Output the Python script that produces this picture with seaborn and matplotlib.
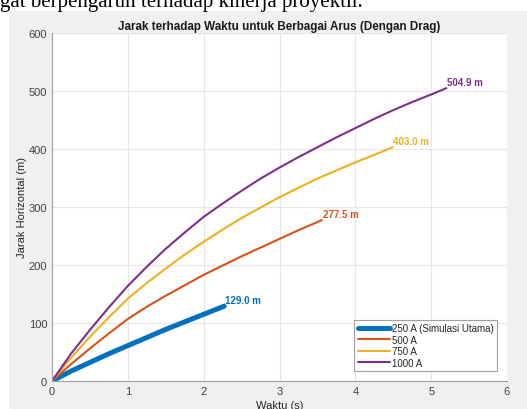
import matplotlib
matplotlib.use("Agg")
import matplotlib.pyplot as plt
import seaborn as sns
import pandas as pd
from matplotlib.patches import Rectangle

# ---- data ----
labels = ["250 A (Simulasi Utama)", "500 A", "750 A", "1000 A"]
t_250 = [0, 0.25, 0.5, 0.75, 1.0, 1.25, 1.5, 1.75, 2.0, 2.27]
x_250 = [0, 17, 32, 47, 61, 75, 89, 102, 115, 129.0]
t_500 = [0, 0.25, 0.5, 0.75, 1.0, 1.25, 1.5, 1.75, 2.0, 2.25, 2.5, 2.75, 3.0,
         3.25, 3.56]
x_500 = [0, 29, 56, 82, 107, 128, 147, 165, 183, 199, 215, 230, 245, 260, 277.5]
t_750 = [0, 0.25, 0.5, 0.75, 1.0, 1.25, 1.5, 1.75, 2.0, 2.25, 2.5, 2.75, 3.0,
         3.25, 3.5, 3.75, 4.0, 4.25, 4.49]
x_750 = [0, 40, 76, 110, 142, 169, 194, 218, 240, 261, 281, 299, 317, 333, 349,
         363, 377, 390, 403.0]
t_1000 = [0, 0.25, 0.5, 0.75, 1.0, 1.25, 1.5, 1.75, 2.0, 2.25, 2.5, 2.75, 3.0,
          3.25, 3.5, 3.75, 4.0, 4.25, 4.5, 4.75, 5.0, 5.2]
x_1000 = [0, 47, 88, 127, 164, 197, 228, 256, 283, 306, 328, 349, 368, 386, 403,
          420, 436, 452, 467, 481, 494, 504.9]
end_labels = ["129.0 m", "277.5 m", "403.0 m", "504.9 m"]
xticks = [0, 1, 2, 3, 4, 5, 6]
yticks = [0, 100, 200, 300, 400, 500, 600]

colors = ["#0072BD", "#D95319", "#EDB120", "#7E2F8E"]
widths = [3.6, 1.5, 1.5, 1.5]

sns.set_style("white")
plt.rcParams["font.family"] = ["Liberation Sans", "DejaVu Sans"]

fig = plt.figure(figsize=(5.27, 4.10), dpi=100, facecolor="white")
# gray MATLAB figure background (embedded in page)
fig.patches.append(Rectangle((9 / 527, 0), 1 - 9 / 527, (410 - 12) / 410,
                             transform=fig.transFigure, facecolor="#f0f0f0",
                             edgecolor="none", zorder=-10))
fig.text(0.0, 1 - 7 / 410, "gat berpengaruh terhadap kinerja proyektil.",
         family="Liberation Serif", fontsize=15, va="baseline", ha="left",
         color="black", zorder=-5)

ax = fig.add_axes([52 / 527, 28 / 410, (507 - 52) / 527, (382 - 34) / 410])
ax.set_facecolor("white")
ax.set_zorder(5)

series = [(t_250, x_250), (t_500, x_500), (t_750, x_750), (t_1000, x_1000)]
for (t, x), lab, c, w in zip(series, labels, colors, widths):
    df = pd.DataFrame({"t": t, "x": x})
    sns.lineplot(data=df, x="t", y="x", ax=ax, color=c, linewidth=w, label=lab,
                 sort=False, estimator=None)

for (t, x), txt, c in zip(series, end_labels, colors):
    ax.annotate(txt, (t[-1], x[-1]), xytext=(0.5, 1), textcoords="offset points",
                color=c, fontsize=7, fontweight="bold", ha="left", va="bottom")

ax.set_xlim(0, 6)
ax.set_ylim(0, 600)
ax.set_xticks(xticks)
ax.set_yticks(yticks)
ax.grid(True, color="#e6e6e6", linewidth=0.8)
ax.tick_params(direction="in", length=3, colors="#808080", labelcolor="#404040",
               labelsize=8, width=0.8)
for s in ["top", "right"]:
    ax.spines[s].set_visible(False)
for s in ["left", "bottom"]:
    ax.spines[s].set_color("#a0a0a0")
    ax.spines[s].set_linewidth(0.8)

ax.set_xlabel("Waktu (s)", fontsize=8, color="#262626", labelpad=3)
ax.set_ylabel("Jarak Horizontal (m)", fontsize=8, color="#262626", labelpad=1)
ax.set_title("Jarak terhadap Waktu untuk Berbagai Arus (Dengan Drag)",
             fontsize=8.4, fontweight="bold", color="#1a1a1a", pad=3)

leg = ax.legend(loc="lower right", bbox_to_anchor=(497 / 527, 38 / 410),
                bbox_transform=fig.transFigure, fontsize=7, frameon=True,
                fancybox=False, edgecolor="#a0a0a0", framealpha=1,
                handlelength=3.3, handletextpad=0.2, labelspacing=0.15,
                borderpad=0.35, borderaxespad=0)
leg.get_frame().set_linewidth(0.8)

fig.savefig("out.png", dpi=100, facecolor=fig.get_facecolor())
